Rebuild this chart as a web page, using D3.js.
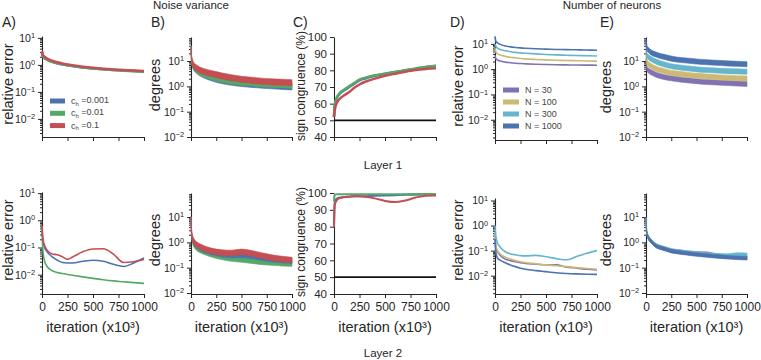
<!DOCTYPE html>
<html>
<head>
<meta charset="utf-8">
<script src="https://cdnjs.cloudflare.com/ajax/libs/d3/7.8.5/d3.min.js"></script>
<title>Noise variance / number of neurons</title>
<style>
body { margin: 0; background: #fff; }
svg text { font-family: "Liberation Sans", Arial, sans-serif; fill: #262626; }
.domain, .tick line { stroke: #262626; }
</style>
</head>
<body>
<svg id="fig" width="761" height="360"></svg>
<script>
// Data (iteration in x10^3)
var iters = [0, 5, 10, 25, 50, 100, 150, 200, 250, 300, 400, 500, 600, 700, 800, 900, 1000];
var xTicks = [0, 250, 500, 750, 1000];
var noiseLabels = ["0.001", "0.01", "0.1"];
var neuronLabels = ["N = 30", "N = 100", "N = 300", "N = 1000"];

// Layer 1, noise variance
var a1Blue  = [3.0, 2.3, 2.1, 1.8, 1.55, 1.3, 1.15, 1.05, 0.97, 0.9, 0.8, 0.74, 0.69, 0.65, 0.62, 0.6, 0.57];
var a1Green = [3.0, 2.3, 2.1, 1.8, 1.55, 1.3, 1.15, 1.05, 0.97, 0.9, 0.8, 0.74, 0.69, 0.65, 0.61, 0.58, 0.55];
var a1Red   = [3.2, 2.5, 2.3, 2.0, 1.7, 1.42, 1.25, 1.13, 1.04, 0.97, 0.86, 0.78, 0.72, 0.68, 0.65, 0.62, 0.6];
var b1Blue  = [30, 12, 9, 6, 4.5, 3.2, 2.6, 2.2, 1.9, 1.7, 1.45, 1.3, 1.2, 1.12, 1.05, 1.0, 0.95];
var b1Green = [30, 12, 9, 6.2, 4.7, 3.4, 2.8, 2.4, 2.1, 1.9, 1.6, 1.45, 1.35, 1.25, 1.2, 1.15, 1.1];
var b1Red   = [30, 13, 10, 7, 5.5, 4.2, 3.6, 3.2, 2.9, 2.6, 2.2, 1.9, 1.75, 1.6, 1.5, 1.45, 1.4];
var c1Blue  = [52, 57.5, 59.5, 63, 65.5, 68, 70, 72, 74, 75, 76.8, 78, 79, 80, 81, 82, 82.8];
var c1Green = [52, 58, 60, 63.5, 66, 68.5, 70.5, 72.5, 74.5, 75.5, 77, 78, 79, 80, 81, 82, 82.6];
var c1Red   = [52, 55, 57, 60, 62.5, 65, 67, 69.5, 71.5, 73, 75, 76.7, 78, 79.2, 80.2, 80.8, 81.2];
// Layer 1, number of neurons
var d1N30   = [3.5, 2.8, 2.6, 2.3, 2.1, 1.9, 1.8, 1.72, 1.66, 1.62, 1.56, 1.52, 1.49, 1.47, 1.45, 1.44, 1.43];
var d1N100  = [7, 5.2, 4.7, 4.0, 3.6, 3.2, 2.95, 2.8, 2.65, 2.55, 2.42, 2.32, 2.25, 2.2, 2.15, 2.1, 2.06];
var d1N300  = [10, 8.5, 7.8, 6.8, 6.0, 5.3, 4.9, 4.6, 4.4, 4.25, 4.0, 3.8, 3.65, 3.55, 3.45, 3.38, 3.3];
var d1N1000 = [20, 14, 12.5, 11, 9.5, 8.2, 7.6, 7.2, 6.9, 6.7, 6.4, 6.2, 6.0, 5.9, 5.8, 5.7, 5.6];
var e1N30   = [10, 6, 5, 4.2, 3.6, 2.9, 2.5, 2.25, 2.1, 1.95, 1.75, 1.6, 1.5, 1.42, 1.36, 1.3, 1.25];
var e1N100  = [20, 11, 9, 7.5, 6.3, 5, 4.3, 3.8, 3.4, 3.2, 2.9, 2.6, 2.45, 2.3, 2.2, 2.1, 2.05];
var e1N300  = [35, 20, 17, 14, 12, 9.5, 8, 7, 6.2, 5.8, 5.2, 4.7, 4.4, 4.2, 4.0, 3.9, 3.8];
var e1N1000 = [60, 40, 33, 27, 22, 18, 15.5, 14, 12.5, 11.5, 10.5, 9.6, 9, 8.5, 8.1, 7.8, 7.5];

// Layer 2, noise variance
var a2Blue  = [0.6, 0.25, 0.17, 0.1, 0.07, 0.045, 0.034, 0.028, 0.027, 0.027, 0.031, 0.034, 0.031, 0.024, 0.02, 0.027, 0.041];
var a2Green = [0.6, 0.15, 0.07, 0.032, 0.02, 0.014, 0.012, 0.011, 0.0102, 0.0095, 0.0083, 0.0073, 0.0065, 0.0059, 0.0055, 0.0051, 0.0048];
var a2Red   = [0.6, 0.3, 0.2, 0.12, 0.08, 0.058, 0.054, 0.046, 0.037, 0.045, 0.07, 0.088, 0.09, 0.057, 0.028, 0.03, 0.036];
var b2Blue  = [8, 2.5, 1.7, 1.1, 0.8, 0.58, 0.48, 0.42, 0.38, 0.35, 0.32, 0.32, 0.29, 0.25, 0.22, 0.2, 0.19];
var b2Green = [8, 2.2, 1.5, 0.9, 0.65, 0.48, 0.4, 0.34, 0.3, 0.27, 0.23, 0.21, 0.19, 0.17, 0.16, 0.15, 0.145];
var b2Red   = [8, 2.7, 1.8, 1.15, 0.85, 0.65, 0.53, 0.46, 0.42, 0.4, 0.38, 0.42, 0.37, 0.3, 0.25, 0.22, 0.2];
var c2Blue  = [80, 93, 95, 96.5, 97.2, 97.6, 97.8, 98, 98, 98.1, 98.3, 98.5, 98.7, 98.9, 99, 99.1, 99.2];
var c2Green = [95, 98.5, 99, 99.2, 99.3, 99.3, 99.3, 99.3, 99.3, 99.3, 99.3, 99.3, 99.3, 99.3, 99.4, 99.4, 99.4];
var c2Red   = [80, 91, 93.5, 95.5, 96.8, 97.5, 97.8, 98, 98, 97.8, 96.8, 95.3, 94.6, 95.6, 97.3, 98.4, 98.5];
// Layer 2, number of neurons
var d2N30   = [0.5, 0.2, 0.13, 0.09, 0.065, 0.046, 0.04, 0.036, 0.033, 0.031, 0.029, 0.027, 0.027, 0.022, 0.02, 0.018, 0.017];
var d2N100  = [0.5, 0.22, 0.15, 0.1, 0.075, 0.055, 0.046, 0.04, 0.036, 0.033, 0.03, 0.027, 0.025, 0.023, 0.021, 0.0195, 0.018];
var d2N300  = [1.0, 0.5, 0.35, 0.2, 0.14, 0.09, 0.075, 0.068, 0.063, 0.062, 0.065, 0.057, 0.048, 0.043, 0.058, 0.078, 0.1];
var d2N1000 = [0.3, 0.12, 0.08, 0.05, 0.042, 0.033, 0.027, 0.023, 0.02, 0.018, 0.016, 0.0145, 0.0132, 0.0123, 0.0118, 0.0115, 0.0113];
var e2N30   = [8, 3, 2.25, 1.5, 1.12, 0.74, 0.62, 0.54, 0.47, 0.44, 0.4, 0.37, 0.36, 0.3, 0.28, 0.26, 0.25];
var e2N100  = [8, 3.1, 2.3, 1.55, 1.15, 0.75, 0.63, 0.55, 0.48, 0.44, 0.39, 0.35, 0.32, 0.3, 0.28, 0.26, 0.25];
var e2N300  = [8, 3.1, 2.3, 1.55, 1.15, 0.76, 0.63, 0.55, 0.48, 0.45, 0.4, 0.36, 0.33, 0.31, 0.3, 0.33, 0.32];
var e2N1000 = [8, 3, 2.2, 1.5, 1.1, 0.72, 0.6, 0.52, 0.45, 0.42, 0.37, 0.33, 0.3, 0.28, 0.26, 0.245, 0.235];

// half width of the noisy bands, in decades
var spreadB1 = 0.12, spreadE1 = 0.1, spreadB2 = 0.11, spreadE2 = 0.07;

var noiseColors = ["#4C72B0", "#55A868", "#C44E52"];
var neuronColors = ["#8172B2", "#CCB974", "#64B5CD", "#4C72B0"];

var svg = d3.select("#fig");

function supTen(sel) {
  sel.each(function(d) {
    var t = d3.select(this), e = Math.round(Math.log10(d));
    t.text("");
    t.append("tspan").text("10");
    t.append("tspan").attr("dy", "-0.5em").attr("font-size", "0.7em")
      .text(e < 0 ? "\u2212" + (-e) : String(e));
  });
}

function panel(p) {
  var x = d3.scaleLinear().domain([0, 1000]).range([p.x0, p.x1]);
  var y;
  if (p.log) y = d3.scaleLog().domain([Math.pow(10, p.dom[0]), Math.pow(10, p.dom[1])]).range([p.y1, p.y0]);
  else y = d3.scaleLinear().domain(p.dom).range([p.y1, p.y0]);

  var g = svg.append("g");
  var gx = g.append("g").attr("transform", "translate(0," + p.y1 + ")")
    .call(d3.axisBottom(x).tickValues(xTicks).tickSize(4).tickSizeOuter(0)
      .tickFormat(p.xlab ? d3.format("d") : ""));
  gx.selectAll("text").attr("font-size", 12).attr("dy", "0.85em");

  if (p.log) {
    var majors = [], minors = [];
    for (var e = Math.floor(p.dom[0]); e <= Math.ceil(p.dom[1]); e++) {
      var v = Math.pow(10, e);
      if (e >= p.dom[0] - 1e-9 && e <= p.dom[1] + 1e-9) majors.push(v);
      for (var m = 2; m < 10; m++) {
        var mv = m * v;
        if (Math.log10(mv) >= p.dom[0] && Math.log10(mv) <= p.dom[1]) minors.push(mv);
      }
    }
    var gm = g.append("g").attr("transform", "translate(" + p.x0 + ",0)")
      .call(d3.axisLeft(y).tickValues(minors).tickSize(2).tickFormat(""));
    gm.select(".domain").remove();
    var gy = g.append("g").attr("transform", "translate(" + p.x0 + ",0)")
      .call(d3.axisLeft(y).tickValues(majors).tickSize(4).tickSizeOuter(0));
    gy.selectAll(".tick text").attr("font-size", 10.5).call(supTen);
  } else {
    var gy2 = g.append("g").attr("transform", "translate(" + p.x0 + ",0)")
      .call(d3.axisLeft(y).tickValues(d3.range(40, 101, 10)).tickSize(4).tickSizeOuter(0));
    gy2.selectAll(".tick text").attr("font-size", 11.5);
  }
  g.selectAll(".domain").attr("stroke-width", 1.1);

  if (p.xlab) {
    g.append("text").attr("x", (p.x0 + p.x1) / 2).attr("y", p.y1 + 38)
      .attr("text-anchor", "middle").attr("font-size", 14.5).text("iteration (x10\u00B3)");
  }
  g.append("text").attr("transform", "translate(" + p.lx + "," + p.ly + ") rotate(-90)")
    .attr("text-anchor", "middle").attr("font-size", p.lsize).text(p.ylab);

  return { x: x, y: y, g: g };
}

function lines(P, series, colors, width) {
  var ln = d3.line().x(function(d, i) { return P.x(iters[i]); })
    .y(function(d) { return P.y(d); }).curve(d3.curveMonotoneX);
  series.forEach(function(s, k) {
    P.g.append("path").attr("d", ln(s)).attr("fill", "none")
      .attr("stroke", colors[k]).attr("stroke-width", width);
  });
}

function bands(P, series, colors, spread) {
  var f = Math.pow(10, spread);
  var ar = d3.area().x(function(d, i) { return P.x(iters[i]); })
    .y0(function(d) { return P.y(d / f); }).y1(function(d) { return P.y(d * f); })
    .curve(d3.curveMonotoneX);
  series.forEach(function(s, k) {
    P.g.append("path").attr("d", ar(s)).attr("fill", colors[k])
      .attr("stroke", colors[k]).attr("stroke-width", 0.6);
  });
}

function refLine(P) {
  P.g.append("line").attr("x1", P.x(0)).attr("x2", P.x(1000))
    .attr("y1", P.y(50)).attr("y2", P.y(50)).attr("stroke", "#111").attr("stroke-width", 1.8);
}

// Row 1
var A1 = panel({ x0: 42, x1: 144, y0: 36, y1: 137, log: true, dom: [-2.67, 1.07], ylab: "relative error", lx: 13, ly: 84, lsize: 14.5 });
lines(A1, [a1Blue, a1Green, a1Red], noiseColors, 2.5);
var B1 = panel({ x0: 191, x1: 292, y0: 37, y1: 137, log: true, dom: [-2, 1.95], ylab: "degrees", lx: 160, ly: 85, lsize: 14.5 });
bands(B1, [b1Blue, b1Green, b1Red], noiseColors, spreadB1);
var C1 = panel({ x0: 334, x1: 436, y0: 37, y1: 137, log: false, dom: [40, 100], ylab: "sign congruence (%)", lx: 305, ly: 86, lsize: 12 });
refLine(C1);
lines(C1, [c1Blue, c1Green, c1Red], noiseColors, 2.5);
var D1 = panel({ x0: 495, x1: 597, y0: 37, y1: 140, log: true, dom: [-2.8, 1.27], ylab: "relative error", lx: 463, ly: 86, lsize: 14.5 });
lines(D1, [d1N30, d1N100, d1N300, d1N1000], neuronColors, 1.6);
var E1 = panel({ x0: 646, x1: 747, y0: 37, y1: 137, log: true, dom: [-2, 1.95], ylab: "degrees", lx: 611, ly: 87, lsize: 14.5 });
bands(E1, [e1N30, e1N100, e1N300, e1N1000], neuronColors, spreadE1);

// Row 2
var A2 = panel({ x0: 42, x1: 144, y0: 192, y1: 294, log: true, dom: [-2.71, 1.04], xlab: true, ylab: "relative error", lx: 13, ly: 240, lsize: 14.5 });
lines(A2, [a2Blue, a2Green, a2Red], noiseColors, 1.6);
var B2 = panel({ x0: 191, x1: 292, y0: 193, y1: 294, log: true, dom: [-2.04, 1.95], xlab: true, ylab: "degrees", lx: 160, ly: 240, lsize: 14.5 });
bands(B2, [b2Green, b2Blue, b2Red], [noiseColors[1], noiseColors[0], noiseColors[2]], spreadB2);
var C2 = panel({ x0: 334, x1: 436, y0: 193, y1: 294, log: false, dom: [40, 100], xlab: true, ylab: "sign congruence (%)", lx: 305, ly: 242, lsize: 12 });
refLine(C2);
lines(C2, [c2Blue, c2Green, c2Red], noiseColors, 2);
var D2 = panel({ x0: 495, x1: 597, y0: 198, y1: 294, log: true, dom: [-2.73, 1.1], xlab: true, ylab: "relative error", lx: 463, ly: 240, lsize: 14.5 });
lines(D2, [d2N30, d2N100, d2N300, d2N1000], neuronColors, 1.6);
var E2 = panel({ x0: 646, x1: 747, y0: 193, y1: 294, log: true, dom: [-2.04, 1.95], xlab: true, ylab: "degrees", lx: 611, ly: 240, lsize: 14.5 });
bands(E2, [e2N30, e2N100, e2N300, e2N1000], neuronColors, spreadE2);

// Legends
noiseLabels.forEach(function(lab, i) {
  var yy = 101 + i * 12.3;
  svg.append("rect").attr("x", 50).attr("y", yy - 2.5).attr("width", 15).attr("height", 5).attr("fill", noiseColors[i]);
  var t = svg.append("text").attr("x", 71).attr("y", yy + 3).attr("font-size", 9).style("fill", "#444");
  t.append("tspan").text("c");
  t.append("tspan").attr("dy", "0.3em").attr("font-size", 6).text("h");
  t.append("tspan").attr("dy", "-0.3em").text(" =" + lab);
});
neuronLabels.forEach(function(lab, i) {
  var yy = 90 + i * 12;
  svg.append("rect").attr("x", 503).attr("y", yy - 2.5).attr("width", 16).attr("height", 5).attr("fill", neuronColors[i]);
  svg.append("text").attr("x", 525).attr("y", yy + 3).attr("font-size", 9).style("fill", "#444").text(lab);
});

// Titles and panel letters
function label(x, y, s, size, anchor) {
  svg.append("text").attr("x", x).attr("y", y).attr("font-size", size)
    .attr("text-anchor", anchor || "start").text(s);
}
label(191, 9, "Noise variance", 11.5, "middle");
label(612, 9, "Number of neurons", 11.5, "middle");
label(383, 169, "Layer 1", 11.5, "middle");
label(383, 357, "Layer 2", 11.5, "middle");
[["A)", 2], ["B)", 151], ["C)", 293], ["D)", 450], ["E)", 600]].forEach(function(d) {
  label(d[1], 27, d[0], 14);
});
</script>
</body>
</html>
